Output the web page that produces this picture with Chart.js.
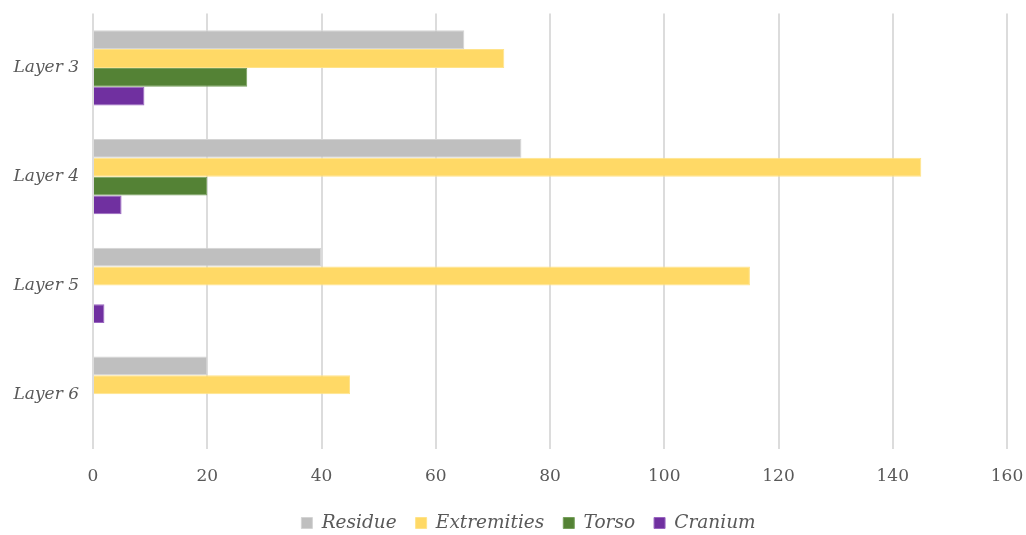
<!DOCTYPE html>
<html>
<head>
<meta charset="utf-8">
<script src="https://cdn.jsdelivr.net/npm/chart.js@4/dist/chart.umd.min.js"></script>
<style>
  html, body { margin: 0; padding: 0; background: #fff; }
  #wrap { width: 1026px; height: 535px; }
</style>
</head>
<body>
<div id="wrap"><canvas id="c" width="1026" height="535"></canvas></div>
<script>
// Remains counted per layer, split by body region
const layers = ['Layer 3', 'Layer 4', 'Layer 5', 'Layer 6'];
const residue = [65, 75, 40, 20];
const extremities = [72, 145, 115, 45];
const torso = [27, 20, 0, 0];
const cranium = [9, 5, 2, 0];
const xTicks = [0, 20, 40, 60, 80, 100, 120, 140, 160];

const textColor = '#595959';
const serif = "'DejaVu Serif', Georgia, serif";

function series(label, data, fill, edge) {
  return {
    label, data,
    backgroundColor: fill,
    borderColor: edge,
    borderWidth: 1,
    borderSkipped: 'start',
    categoryPercentage: 0.69,
    barPercentage: 1.0
  };
}

// keep the plot area edges fixed regardless of label overhang
function noOverhang(s) {
  s.paddingTop = 0; s.paddingBottom = 0;
  s.paddingLeft = 0; s.paddingRight = 0;
}

// centre the legend under the whole canvas rather than the padded box
const legendShift = {
  id: 'legendShift',
  afterLayout(chart) {
    const lg = chart.legend;
    if (lg) { lg.left += 25; lg.right += 25; }
  }
};

new Chart(document.getElementById('c'), {
  type: 'bar',
  data: {
    labels: layers,
    datasets: [
      series('Residue', residue, '#bfbfbf', '#d4d4d4'),
      series('Extremities', extremities, '#ffd966', '#ffe38a'),
      series('Torso', torso, '#548235', '#77a05c'),
      series('Cranium', cranium, '#7030a0', '#9a66c0')
    ]
  },
  plugins: [legendShift],
  options: {
    indexAxis: 'y',
    responsive: false,
    animation: false,
    layout: { padding: { top: 13.5, right: 19, left: 0, bottom: -7.25 } },
    scales: {
      x: {
        position: 'bottom',
        min: xTicks[0],
        max: xTicks[xTicks.length - 1],
        afterBuildTicks: (axis) => { axis.ticks = xTicks.map(v => ({ value: v })); },
        grid: { color: '#dcdcdc', lineWidth: 2, drawTicks: false },
        border: { display: false },
        ticks: {
          color: textColor,
          font: { family: serif, size: 17 },
          padding: 18
        },
        afterFit: (s) => { s.height = 46.25; noOverhang(s); }
      },
      y: {
        grid: { display: false, drawTicks: false },
        border: { display: false },
        ticks: {
          color: textColor,
          font: { family: serif, size: 17, style: 'italic' },
          padding: 14
        },
        afterFit: (s) => { s.width = 93; noOverhang(s); }
      }
    },
    plugins: {
      legend: {
        position: 'bottom',
        labels: {
          color: textColor,
          font: { family: serif, size: 18.5, style: 'italic' },
          boxWidth: 11,
          boxHeight: 11,
          padding: 19
        }
      },
      tooltip: { enabled: false }
    }
  }
});
</script>
</body>
</html>
